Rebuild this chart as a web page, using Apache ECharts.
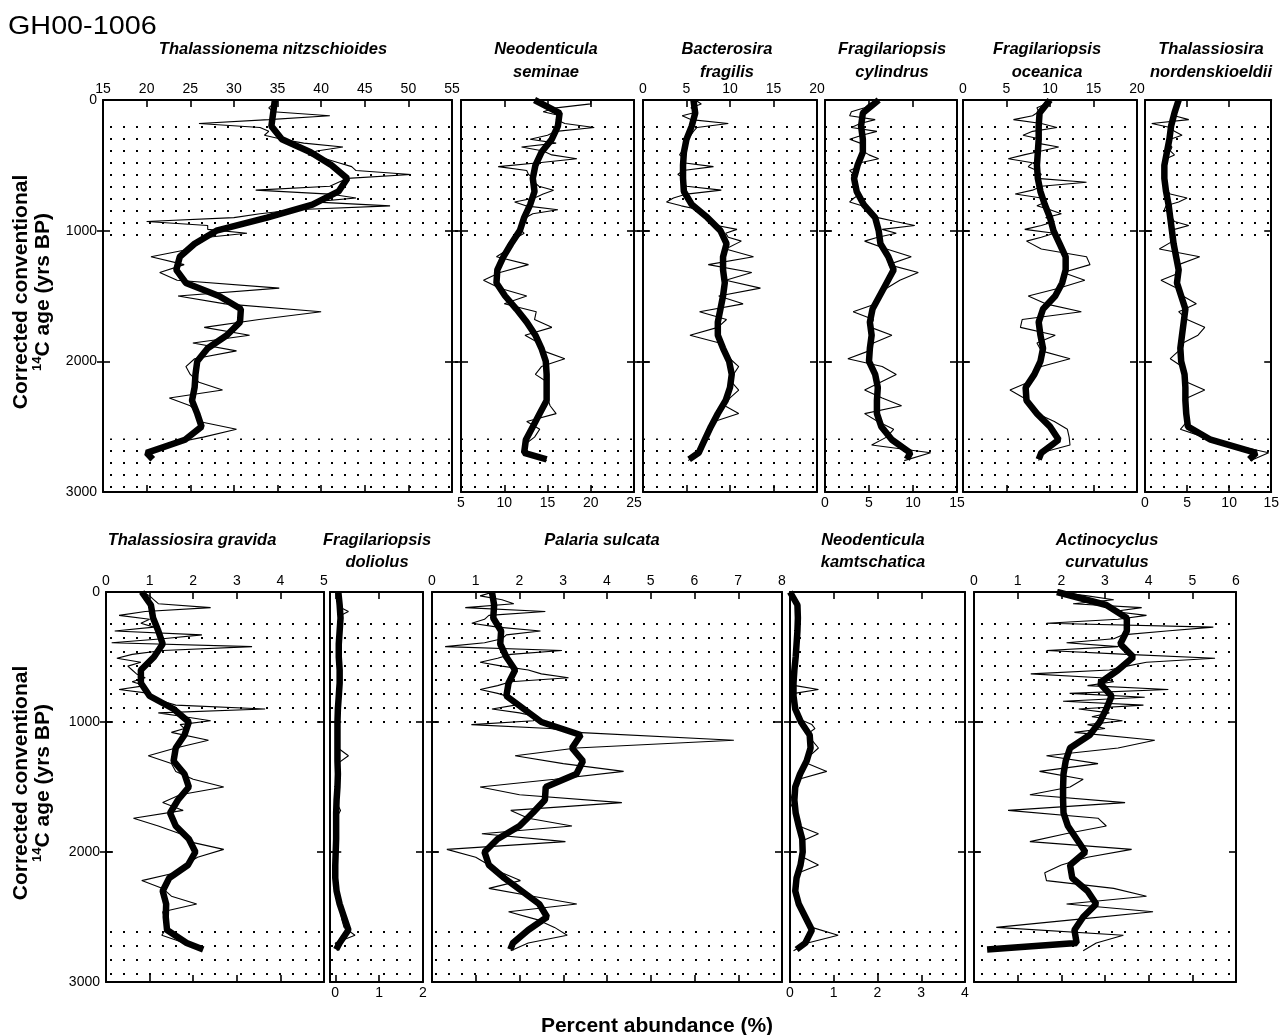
<!DOCTYPE html>
<html>
<head>
<meta charset="utf-8">
<script src="https://cdn.jsdelivr.net/npm/echarts@6/dist/echarts.min.js"></script>
<style>
  html, body { margin: 0; padding: 0; background: #fff; }
  #chart { width: 1282px; height: 1035px; }
</style>
</head>
<body>
<div id="chart"></div>
<script>
// sample ages (yrs BP), shared by every taxon
const sampleAges = [0, 30, 60, 90, 120, 150, 180, 210, 240, 270, 300, 330, 360, 390, 420, 450, 480, 510, 540, 570,
  600, 630, 660, 690, 720, 750, 780, 810, 840, 870, 900, 930, 960, 990, 1020, 1050, 1080,
  1140, 1200, 1260, 1320, 1380, 1440, 1500, 1560, 1620, 1680, 1740, 1800, 1860, 1920, 1980, 2040, 2100,
  2160, 2220, 2280, 2340, 2400, 2460, 2520, 2580, 2640, 2700, 2760];
// ages of the smoothed curve
const smoothAges = [0, 100, 200, 300, 400, 500, 600, 700, 800, 900, 1000, 1100, 1200, 1300, 1400, 1500, 1600,
  1700, 1800, 1900, 2000, 2100, 2200, 2300, 2400, 2500, 2600, 2700, 2750];
// shaded (dotted) intervals
const shadeBands = [[150, 1090], [2590, 3000]];
const ageTicks = [0, 1000, 2000, 3000];
const ageInnerTicks = [1000, 2000];

// --- percent abundance, raw samples and smoothed ---
const nitzRaw = [35, 34.5, 34, 34.5, 41, 34, 26, 33, 34, 33.5, 35.5, 38, 42.5, 39.5, 38.5, 40.5, 42, 43.5, 44, 50.3,
  43, 42, 41, 32.5, 41, 44, 39, 47.9, 37, 33, 30, 20, 27, 27, 31.5, 27, 26.5,
  25, 20.5, 24.3, 21.5, 23.5, 35.2, 23.6, 29, 40, 32.9, 26.6, 31.8, 25.3, 30.3, 25.5, 24.5, 25,
  26, 28.7, 22.6, 25, 26, 26, 30.3, 26.5, 22, 20, 20.5];
const nitzSmooth = [34.7, 34.5, 34.3, 35.5, 38.8, 41.2, 43, 42, 39, 33.8, 28, 25.5, 23.8, 23.4, 24.5, 28.3, 30.8,
  30.7, 29.2, 27, 25.8, 25.6, 25.5, 25.2, 25.8, 26.3, 24.4, 20, 20.7];

const seminaeRaw = [20, 20, 16, 14.5, 16.5, 16, 17, 20.4, 16, 15, 13, 16, 12, 14.5, 15.5, 18.4, 14, 9.3, 12.6, 12.8,
  13.5, 13.5, 14, 15.7, 14.5, 13.5, 11.2, 12.5, 16.2, 13.3, 12.5, 12.5, 12, 11.9, 12.3, 11.5, 11,
  10.5, 9.1, 12.8, 9.5, 7.6, 9.5, 12.6, 10, 13.7, 13.5, 15.5, 12.4, 14, 14.5, 17, 14.3, 13.6,
  15, 15, 15, 15.3, 16, 12.6, 14.1, 13.5, 12.3, 12.3, 14.9];
const seminaeSmooth = [13.5, 16.4, 16.2, 15.5, 14.3, 13.6, 13.3, 13.5, 13, 12.3, 11.8, 10.8, 9.9, 9.2, 9.1, 10.1,
  11.4, 12.6, 13.6, 14.3, 14.8, 14.9, 14.9, 14.9, 14.1, 13.3, 12.5, 12.3, 14.9];

const fragilisRaw = [6, 6.7, 5.5, 6.3, 4.5, 5.5, 9.8, 6.2, 5.8, 5.5, 5.2, 5, 4.9, 4.5, 4.2, 4.8, 4.6, 8.1, 4.6, 4,
  4.8, 4.6, 5, 9, 5, 3.5, 2.7, 4.4, 6.5, 7, 7.5, 8, 8.5, 10.8, 9.5, 9.8, 11.3,
  9.5, 12.7, 7.5, 12.5, 9.5, 13.5, 8.7, 11.5, 6.5, 9.6, 8.6, 5.4, 8.8, 9.5, 10, 11, 10.4,
  10.2, 11, 10, 9.4, 11, 8.2, 7.8, 7.2, 6.9, 6.2, 5.2];
const fragilisSmooth = [5.8, 6, 5.6, 5, 4.7, 4.6, 4.6, 4.7, 5.6, 7.4, 8.9, 9.6, 9.2, 9.2, 9.4, 9.2, 8.9, 8.6, 8.6,
  9.2, 9.9, 10.2, 10, 9.5, 8.6, 7.8, 7.1, 6.4, 5.3];

const cylindrusRaw = [6, 5, 4.5, 3, 2.8, 5.7, 4, 3, 5.9, 4.2, 2.8, 4, 4.5, 4.3, 5, 6.1, 4, 3.8, 2.8, 3.3,
  3, 3.5, 3.4, 3.6, 4, 3.3, 2.8, 4.2, 5, 5.5, 6, 8, 10.2, 6.5, 8.1, 6, 4.5,
  7, 9.8, 7.2, 10.6, 8.5, 7, 6.2, 5.8, 3.2, 5.5, 5.2, 7.6, 5.5, 5, 2.6, 6.5, 8.1,
  6.3, 4.5, 6.5, 8.7, 4.5, 6, 7.8, 7, 5.3, 12, 9];
const cylindrusSmooth = [6.1, 4.3, 4.1, 4.3, 4.3, 3.7, 3.3, 3.6, 4.4, 5.7, 6.1, 6.3, 7.2, 7.8, 7, 6.2, 5.4, 5.1,
  5.3, 5.1, 5, 5.7, 6, 5.9, 5.9, 6.4, 7.6, 9.7, 9.3];

const oceanicaRaw = [10, 9.5, 8.5, 8.7, 8, 5.8, 9, 10.8, 8, 6.9, 9, 8.5, 11, 9, 7, 5.2, 8, 7.5, 8.5, 9,
  8.5, 14.2, 9, 8, 6, 9, 9.5, 8.5, 10, 11.3, 9.5, 10.5, 9, 7.1, 10.5, 9, 7.3,
  9, 14.2, 14.6, 11.5, 14, 11, 7.5, 9.5, 13.6, 6.8, 6.6, 10.6, 8.5, 9, 12.3, 9, 8,
  7.5, 5.4, 7, 7.5, 8.5, 10.5, 12, 12.2, 12.3, 9, 8.7];
const oceanicaSmooth = [10, 8.8, 8.7, 8.7, 8.6, 8.5, 8.6, 8.9, 9.4, 10, 10.4, 11.1, 11.8, 11.8, 11.4, 10.6, 9.2,
  8.7, 8.9, 9.2, 8.9, 8.2, 7.2, 7.3, 8.5, 10, 11, 9, 8.7];

const nordRaw = [4, 3.8, 3.6, 3.5, 3.5, 5.2, 0.8, 3, 3.5, 4.4, 3, 2.8, 3.2, 3, 3.5, 2.5, 2.4, 2.2, 2.3, 2.4,
  2.2, 2.3, 2.5, 2.6, 3, 5, 4, 2.5, 2.3, 3, 3.2, 3.5, 5.2, 3.5, 3.2, 3, 3.3,
  1.7, 6.5, 4, 4.2, 1.9, 3.8, 4.5, 6.1, 4, 5, 7.1, 6.3, 4.5, 4, 3, 4.4, 4.8,
  5, 7.1, 5, 4.8, 4.9, 5, 4.2, 7, 10.5, 14.7, 12.5];
const nordSmooth = [4, 3.5, 3.1, 2.9, 2.6, 2.3, 2.3, 2.5, 2.8, 3, 3.2, 3.4, 3.7, 4, 3.8, 4.3, 4.8, 4.6, 4.4, 4.2,
  4.3, 4.7, 4.8, 4.8, 4.9, 5.1, 7.8, 13.2, 12.4];

const gravidaRaw = [0.85, 1, 1.1, 1.2, 2.4, 0.9, 0.3, 1, 0.8, 1.1, 0.2, 2.2, 1.3, 0.13, 3.35, 1.3, 0.6, 0.25, 0.8, 0.5,
  0.6, 0.7, 0.9, 0.6, 0.9, 0.3, 1, 1.1, 1.3, 1.6, 3.65, 1.2, 1.8, 2.4, 1.7, 1.8, 1.5,
  2.35, 1.6, 0.97, 1.5, 1.6, 2, 2.7, 1.7, 1.3, 1.77, 0.63, 1.2, 1.7, 1.9, 2.7, 2.1, 1.8,
  1.6, 0.82, 1.3, 1.5, 2.08, 1.3, 1.35, 1.4, 1.28, 1.8, 2.2];
const gravidaSmooth = [0.82, 1.03, 1.08, 1.2, 1.3, 1.1, 0.8, 0.8, 1, 1.55, 1.9, 1.8, 1.6, 1.55, 1.8, 1.9, 1.65,
  1.47, 1.6, 1.9, 2.05, 1.88, 1.45, 1.3, 1.38, 1.37, 1.4, 1.85, 2.23];

const doliolusRaw = [0.07, 0.08, 0.1, 0.1, 0.12, 0.3, 0.12, 0.1, 0.1, 0.09, 0.1, 0.08, 0.08, 0.09, 0.08, 0.08, 0.07,
  0.08, 0.09, 0.1, 0.1, 0.11, 0.1, 0.1, 0.09, 0.08, 0.08, 0.08, 0.07, 0.06, 0.06, 0.05, 0.05, 0.05, 0.05, 0.06, 0.05,
  0.05, 0.06, 0.3, 0.05, 0.05, 0.06, 0.05, 0.04, 0.03, 0.12, 0.02, 0.02, 0.02, 0.02, 0.01, 0, 0,
  0, 0, 0.02, 0.05, 0.1, 0.12, 0.15, 0.2, 0.45, 0, 0.05];
const doliolusSmooth = [0.07, 0.1, 0.12, 0.1, 0.08, 0.08, 0.1, 0.1, 0.08, 0.06, 0.05, 0.05, 0.05, 0.05, 0.06, 0.05,
  0.03, 0.02, 0.02, 0.02, 0.01, 0, 0, 0.03, 0.1, 0.2, 0.3, 0.1, 0.02];

const sulcataRaw = [1.4, 1.1, 1.6, 1.87, 0.76, 2.59, 1.3, 1.2, 0.91, 1.5, 2.48, 1.7, 1.6, 1.2, 0.3, 2.97, 1.8, 1.5,
  1.1, 1.6, 2.2, 2.5, 3.12, 1.8, 1.5, 1.1, 1.5, 1.8, 1.94, 1.9, 1.37, 2, 2.4, 2.32, 0.9, 2.7, 3.3,
  6.9, 3.3, 1.9, 3, 4.38, 2.8, 1.1, 2, 4.34, 1.8, 2.2, 3.2, 1.14, 3.05, 0.34, 1, 1.3,
  1.6, 2.02, 1.3, 2.3, 3.31, 1.75, 2.4, 2.8, 3.09, 2.2, 1.8];
const sulcataSmooth = [1.37, 1.42, 1.4, 1.58, 1.56, 1.7, 1.9, 1.75, 1.7, 2.1, 2.5, 3.4, 3.2, 3.45, 3.3, 2.6, 2.58,
  2.3, 2.0, 1.5, 1.2, 1.3, 1.65, 2.05, 2.45, 2.63, 2.2, 1.85, 1.79];

const kamtRaw = [0, 0.1, 0.15, 0.2, 0.18, 0.22, 0.15, 0.2, 0.15, 0.22, 0.16, 0.2, 0.15, 0.2, 0.12, 0.18, 0.12, 0.15,
  0.1, 0.14, 0.08, 0.1, 0.05, 0.1, 0.12, 0.65, 0.1, 0.08, 0.1, 0.08, 0.12, 0.15, 0.2, 0.3, 0.5, 0.57, 0.45,
  0.5, 0.65, 0.45, 0.4, 0.84, 0.2, 0.1, 0.05, 0, 0.1, 0.15, 0.2, 0.65, 0.25, 0.3, 0.3, 0.65,
  0.2, 0.12, 0.08, 0.1, 0.2, 0.25, 0.35, 0.5, 1.1, 0.4, 0.08];
const kamtSmooth = [0, 0.17, 0.18, 0.17, 0.15, 0.13, 0.1, 0.08, 0.08, 0.12, 0.25, 0.45, 0.47, 0.38, 0.23, 0.12, 0.1,
  0.13, 0.2, 0.28, 0.29, 0.24, 0.15, 0.12, 0.2, 0.35, 0.5, 0.35, 0.15];

const curvRaw = [1.9, 2.6, 3.2, 2.27, 3.84, 3.2, 3.95, 3.3, 1.66, 5.48, 4.41, 3.4, 3.2, 2.12, 3.3, 1.66, 3.5, 5.52,
  3.95, 3.5, 3.1, 1.3, 2.9, 3.2, 2.6, 4.45, 2.19, 3.91, 2.04, 3.88, 2.4, 3.1, 2.7, 3.4, 2.6, 3.0, 2.3,
  4.14, 3.3, 1.66, 2.84, 1.5, 2.5, 2.2, 1.28, 3.46, 0.78, 2.84, 3.03, 2.1, 1.28, 3.61, 2.6, 2.0,
  1.62, 1.66, 3.2, 3.95, 2.12, 4.1, 2.3, 0.51, 3.42, 2.8, 2.5];
const curvSmooth = [1.9, 3.03, 3.5, 3.5, 3.35, 3.65, 3.3, 2.88, 3.15, 3.03, 2.88, 2.65, 2.2, 2.1, 2.05, 2.04, 2.04,
  2.05, 2.15, 2.35, 2.55, 2.2, 2.25, 2.6, 2.8, 2.5, 2.3, 2.35, 0.3];

// --- panel layout ---
const FONT = '"Liberation Sans", Arial, Helvetica, sans-serif';
const rowTop = [100, 592];
const rowHeight = [392, 390];
const titleY = [[49, 72], [540, 562]];

const panels = [
  { title: ['Thalassionema nitzschioides'], raw: nitzRaw, smooth: nitzSmooth, min: 15, max: 55, ticks: [15, 20, 25, 30, 35, 40, 45, 50, 55], side: 'top', row: 0, left: 103, width: 349, cx: 273 },
  { title: ['Neodenticula', 'seminae'], raw: seminaeRaw, smooth: seminaeSmooth, min: 5, max: 25, ticks: [5, 10, 15, 20, 25], side: 'bottom', row: 0, left: 461, width: 173, cx: 546 },
  { title: ['Bacterosira', 'fragilis'], raw: fragilisRaw, smooth: fragilisSmooth, min: 0, max: 20, ticks: [0, 5, 10, 15, 20], side: 'top', row: 0, left: 643, width: 174, cx: 727 },
  { title: ['Fragilariopsis', 'cylindrus'], raw: cylindrusRaw, smooth: cylindrusSmooth, min: 0, max: 15, ticks: [0, 5, 10, 15], side: 'bottom', row: 0, left: 825, width: 132, cx: 892 },
  { title: ['Fragilariopsis', 'oceanica'], raw: oceanicaRaw, smooth: oceanicaSmooth, min: 0, max: 20, ticks: [0, 5, 10, 15, 20], side: 'top', row: 0, left: 963, width: 174, cx: 1047 },
  { title: ['Thalassiosira', 'nordenskioeldii'], raw: nordRaw, smooth: nordSmooth, min: 0, max: 15, ticks: [0, 5, 10, 15], side: 'bottom', row: 0, left: 1145, width: 131, cx: 1211 },
  { title: ['Thalassiosira gravida'], raw: gravidaRaw, smooth: gravidaSmooth, min: 0, max: 5, ticks: [0, 1, 2, 3, 4, 5], side: 'top', row: 1, left: 106, width: 218, cx: 192 },
  { title: ['Fragilariopsis', 'doliolus'], raw: doliolusRaw, smooth: doliolusSmooth, min: -0.12, max: 2, ticks: [0, 1, 2], side: 'bottom', row: 1, left: 330, width: 93, cx: 377 },
  { title: ['Palaria sulcata'], raw: sulcataRaw, smooth: sulcataSmooth, min: 0, max: 8, ticks: [0, 1, 2, 3, 4, 5, 6, 7, 8], side: 'top', row: 1, left: 432, width: 350, cx: 602 },
  { title: ['Neodenticula', 'kamtschatica'], raw: kamtRaw, smooth: kamtSmooth, min: 0, max: 4, ticks: [0, 1, 2, 3, 4], side: 'bottom', row: 1, left: 790, width: 175, cx: 873 },
  { title: ['Actinocyclus', 'curvatulus'], raw: curvRaw, smooth: curvSmooth, min: 0, max: 6, ticks: [0, 1, 2, 3, 4, 5, 6], side: 'top', row: 1, left: 974, width: 262, cx: 1107 }
];

function dotPattern(w, h) {
  const c = document.createElement('canvas');
  c.width = w;
  c.height = h;
  const ctx = c.getContext('2d');
  ctx.fillStyle = '#000';
  ctx.fillRect(Math.floor(w / 2), Math.floor(h / 2), 2, 2);
  return c;
}
const patterns = [dotPattern(13, 12), dotPattern(13, 14)];

const plain = v => String(v);
const grid = [], xAxis = [], yAxis = [], series = [], graphic = [];

panels.forEach((p, i) => {
  grid.push({ left: p.left, top: rowTop[p.row], width: p.width, height: rowHeight[p.row], show: false });

  const xBase = {
    type: 'value', gridIndex: i, min: p.min, max: p.max,
    splitLine: { show: false },
    axisLine: { show: true, onZero: false, lineStyle: { color: '#000', width: 2 } },
    axisTick: { show: true, inside: true, length: 7, customValues: p.ticks, lineStyle: { color: '#000', width: 1.6 } }
  };
  xAxis.push(Object.assign({}, xBase, {
    position: p.side,
    axisLabel: { show: true, customValues: p.ticks, formatter: plain, margin: 4, fontSize: 14, color: '#000', fontFamily: FONT }
  }));
  xAxis.push(Object.assign({}, xBase, {
    position: p.side === 'top' ? 'bottom' : 'top',
    axisLabel: { show: false }
  }));

  const firstInRow = i === 0 || i === 6;
  const yBase = {
    type: 'value', gridIndex: i, min: 0, max: 3000, inverse: true,
    splitLine: { show: false }, axisLabel: { show: false }
  };
  ['left', 'right'].forEach(pos => {
    yAxis.push(Object.assign({}, yBase, {
      position: pos,
      axisLine: { show: true, onZero: false, lineStyle: { color: '#000', width: 2 } },
      axisTick: { show: true, inside: true, length: 7, customValues: ageInnerTicks, lineStyle: { color: '#000', width: 1.6 } }
    }));
    yAxis.push(Object.assign({}, yBase, {
      position: pos,
      axisLine: { show: false },
      axisTick: { show: true, inside: false, length: 6, customValues: ageInnerTicks, lineStyle: { color: '#000', width: 1.6 } },
      axisLabel: (pos === 'left' && firstInRow)
        ? { show: true, customValues: ageTicks, formatter: plain, margin: 6, fontSize: 14, color: '#000', fontFamily: FONT }
        : { show: false }
    }));
  });

  series.push({
    type: 'line', xAxisIndex: 2 * i, yAxisIndex: 4 * i,
    data: sampleAges.map((a, k) => [p.raw[k], a]),
    symbol: 'none', silent: true, z: 3,
    lineStyle: { color: '#000', width: 1.1 },
    markArea: {
      silent: true,
      itemStyle: { color: { image: patterns[p.row], repeat: 'repeat' } },
      data: shadeBands.map(([a, b]) => [{ xAxis: p.min, yAxis: a }, { xAxis: p.max, yAxis: b }])
    }
  });
  series.push({
    type: 'line', xAxisIndex: 2 * i, yAxisIndex: 4 * i,
    data: smoothAges.map((a, k) => [p.smooth[k], a]),
    symbol: 'none', silent: true, z: 4,
    lineStyle: { color: '#000', width: 6.5 }
  });

  p.title.forEach((t, j) => {
    graphic.push({
      type: 'text', x: p.cx, y: titleY[p.row][j], silent: true,
      style: {
        text: t, fill: '#000',
        font: 'italic bold 16.5px ' + FONT,
        align: 'center', verticalAlign: 'middle',
        textAlign: 'center', textVerticalAlign: 'middle'
      }
    });
  });
});

// figure labels
graphic.push({
  type: 'text', x: 8, y: 27, scaleX: 1.15, silent: true,
  style: { text: 'GH00-1006', fill: '#000', font: '25px ' + FONT, align: 'left', verticalAlign: 'middle', textAlign: 'left', textVerticalAlign: 'middle' }
});
graphic.push({
  type: 'text', x: 657, y: 1026, silent: true,
  style: { text: 'Percent abundance (%)', fill: '#000', font: 'bold 21px ' + FONT, align: 'center', verticalAlign: 'middle', textAlign: 'center', textVerticalAlign: 'middle' }
});
rowTop.forEach((top, r) => {
  const cy = top + rowHeight[r] / 2 - 4;
  graphic.push({
    type: 'text', x: 21, y: cy, rotation: Math.PI / 2, silent: true,
    style: { text: 'Corrected conventional', fill: '#000', font: 'bold 21px ' + FONT, align: 'center', verticalAlign: 'middle', textAlign: 'center', textVerticalAlign: 'middle' }
  });
  graphic.push({
    type: 'text', x: 43, y: cy, rotation: Math.PI / 2, silent: true,
    style: {
      text: '{s|14}{m|C age (yrs BP)}', fill: '#000',
      align: 'center', verticalAlign: 'middle', textAlign: 'center', textVerticalAlign: 'middle',
      rich: {
        s: { fontSize: 13, fontWeight: 'bold', fontFamily: FONT, verticalAlign: 'top', lineHeight: 24 },
        m: { fontSize: 21, fontWeight: 'bold', fontFamily: FONT, lineHeight: 24 }
      }
    }
  });
});

const chart = echarts.init(document.getElementById('chart'));
chart.setOption({
  animation: false,
  backgroundColor: '#fff',
  grid, xAxis, yAxis, series, graphic
});
</script>
</body>
</html>
